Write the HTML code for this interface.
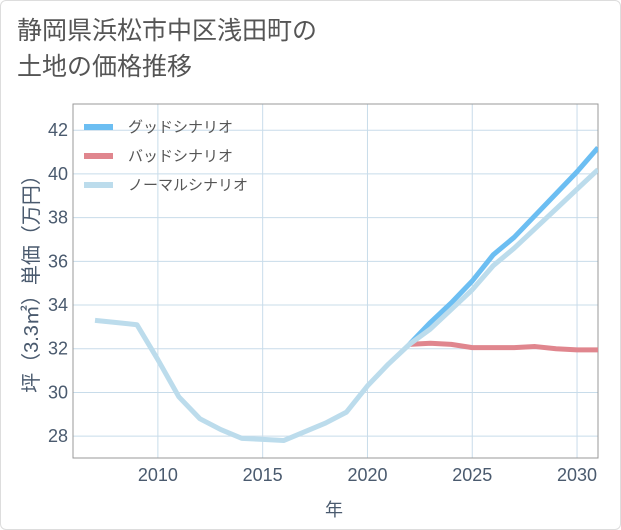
<!DOCTYPE html>
<html><head><meta charset="utf-8"><style>
body{margin:0;background:#fff;font-family:"Liberation Sans","Noto Sans CJK JP",sans-serif;}
#wrap{position:relative;width:619px;height:528px;border:1px solid #ddd;border-radius:6px;overflow:hidden;background:#fff}
#title{position:absolute;left:16px;top:12px;font-size:25px;line-height:36px;color:#555}
</style></head><body>
<div id="wrap">
<div id="title">静岡県浜松市中区浅田町の<br>土地の価格推移</div>
<svg id="chart" width="619" height="528" style="position:absolute;left:0;top:0"></svg>
</div>
<script>
const years=[2007,2008,2009,2010,2011,2012,2013,2014,2015,2016,2017,2018,2019,2020,2021,2022,2023,2024,2025,2026,2027,2028,2029,2030,2031];
const normal=[33.3,33.2,33.1,31.5,29.8,28.8,28.3,27.9,27.85,27.8,28.2,28.6,29.1,30.3,31.3,32.2,32.9,33.8,34.7,35.8,36.6,37.5,38.4,39.3,40.2];
const goodYears=[2022,2023,2024,2025,2026,2027,2028,2029,2030,2031];
const good=[32.2,33.2,34.1,35.1,36.3,37.1,38.1,39.1,40.1,41.2];
const bad=[32.2,32.25,32.2,32.05,32.05,32.05,32.1,32.0,31.95,31.95];
const xTicks=[2010,2015,2020,2025,2030];
const yTicks=[28,30,32,34,36,38,40,42];
const L=72,R=597,T=103,B=457,x0=2005.95,x1=2031,y0=27.0,y1=43.2;
const X=v=>L+(v-x0)/(x1-x0)*(R-L);
const Y=v=>B-(v-y0)/(y1-y0)*(B-T);
const svg=document.getElementById('chart');
const NS='http://www.w3.org/2000/svg';
function mk(t,a,p){const e=document.createElementNS(NS,t);for(const k in a)e.setAttribute(k,a[k]);(p||svg).appendChild(e);return e;}
const grid=mk('g',{});


yTicks.forEach(v=>{
 mk('line',{x1:L,x2:R,y1:Y(v),y2:Y(v),stroke:'#c8dcea','stroke-width':1},grid);
 const t=mk('text',{x:L-5,y:Y(v)+6,'text-anchor':'end','font-size':18,fill:'#4a5a6e'});
 
 
 t.textContent=v;
});
xTicks.forEach(v=>{
 mk('line',{x1:X(v),x2:X(v),y1:T,y2:B,stroke:'#c8dcea','stroke-width':1},grid);
 const t=mk('text',{x:X(v),y:B+23,'text-anchor':'middle','font-size':18,fill:'#4a5a6e'});
 
 
 t.textContent=v;
});
mk('rect',{x:L,y:T,width:R-L,height:B-T,fill:'none',stroke:'#999','stroke-width':1});
const clip=mk('clipPath',{id:'cp'});mk('rect',{x:L,y:T,width:R-L,height:B-T},clip);
function line(xs,ys,color,name){
 const p=mk('polyline',{points:xs.map((x,i)=>X(x)+','+Y(ys[i])).join(' '),fill:'none',stroke:color,'stroke-width':5,'stroke-linejoin':'round','clip-path':'url(#cp)'});
 
 
}
line(goodYears,bad,'#e0868e','bad-scenario-line');
line(goodYears,good,'#6cbef2','good-scenario-line');
line(years,normal,'#bcdcec','normal-scenario-line');
const leg=[['グッドシナリオ','#6cbef2'],['バッドシナリオ','#e0868e'],['ノーマルシナリオ','#bcdcec']];
leg.forEach((d,i)=>{
 const g=mk('g',{});
 
 
 const y=126+i*29;
 mk('line',{x1:83,x2:112,y1:y,y2:y,stroke:d[1],'stroke-width':6},g);
 const t=mk('text',{x:127,y:y+5,'font-size':15,fill:'#555'},g);t.textContent=d[0];
});
const yt=mk('text',{x:37,y:(T+B)/2-2,'text-anchor':'middle','font-size':20,fill:'#4a5a6e',transform:`rotate(-90 37 ${(T+B)/2-2})`});


yt.textContent='坪（3.3㎡）単価（万円）';
const xt=mk('text',{x:333,y:515,'text-anchor':'middle','font-size':18,fill:'#4a5a6e'});


xt.textContent='年';
</script>
</body></html>
